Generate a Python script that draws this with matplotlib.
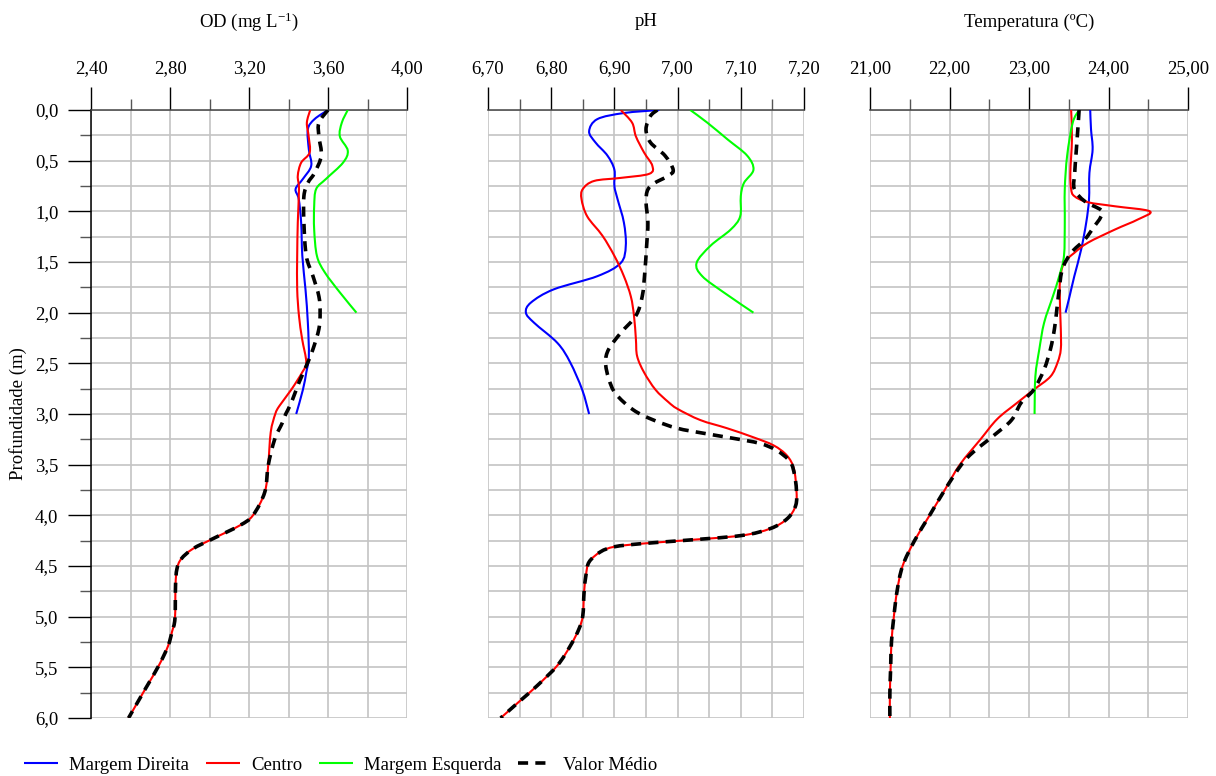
import numpy as np
import matplotlib
matplotlib.use("Agg")
import matplotlib.pyplot as plt
from matplotlib.path import Path
from matplotlib.patches import PathPatch
from matplotlib.lines import Line2D
from matplotlib.ticker import MultipleLocator, FuncFormatter

plt.rcParams['font.family'] = ['Liberation Serif', 'DejaVu Serif']
plt.rcParams['mathtext.fontset'] = 'custom'
plt.rcParams['mathtext.rm'] = 'Liberation Serif'
plt.rcParams['mathtext.it'] = 'Liberation Serif:italic'

# ---------------- data (depth in m, value) ----------------
series_names = ["Margem Direita", "Centro", "Margem Esquerda", "Valor Médio"]
panel_titles = [r"OD (mg L$^{\mathregular{-1}}$)", "pH", "Temperatura (ºC)"]
depth_label = "Profundidade (m)"

# OD
od_dir_d = [0.0, 0.09, 0.19, 0.39, 0.55, 0.68, 0.78, 0.88, 1.11, 1.44, 1.77, 2.10, 2.43, 2.59, 2.76, 3.0]
od_dir_v = [3.60, 3.532, 3.498, 3.503, 3.515, 3.473, 3.436, 3.452, 3.464, 3.470, 3.486, 3.498, 3.503, 3.49, 3.473, 3.439]
od_cen_d = [0.0, 0.125, 0.26, 0.42, 0.52, 0.65, 0.78, 1.11, 1.44, 1.77, 2.03, 2.26, 2.49, 2.59, 2.76, 2.92,
            3.0, 3.18, 3.51, 3.77, 4.0, 4.1, 4.23, 4.33, 4.43, 4.53, 4.69, 5.02, 5.15, 5.29, 5.48, 5.71, 6.0]
od_cen_v = [3.51, 3.493, 3.502, 3.507, 3.464, 3.447, 3.453, 3.447, 3.444, 3.444, 3.453, 3.469, 3.49, 3.469, 3.414, 3.354,
            3.333, 3.31, 3.297, 3.28, 3.22, 3.153, 3.018, 2.916, 2.857, 2.835, 2.828, 2.825, 2.81, 2.79, 2.744, 2.676, 2.59]
od_esq_d = [0.0, 0.125, 0.26, 0.40, 0.52, 0.68, 0.78, 0.95, 1.18, 1.44, 1.60, 1.80, 2.0]
od_esq_v = [3.70, 3.67, 3.66, 3.70, 3.676, 3.59, 3.54, 3.53, 3.53, 3.544, 3.583, 3.66, 3.744]
od_med_d = [0.0, 0.125, 0.26, 0.45, 0.62, 0.72, 0.85, 1.11, 1.44, 1.64, 1.84, 2.0, 2.16, 2.36, 2.49, 2.69, 2.89,
            3.0, 3.09, 3.25, 3.51, 3.77, 4.0, 4.1, 4.23, 4.33, 4.43, 4.53, 4.69, 5.02, 5.15, 5.29, 5.48, 5.71, 6.0]
od_med_v = [3.60, 3.554, 3.554, 3.566, 3.532, 3.498, 3.478, 3.478, 3.49, 3.524, 3.554, 3.56, 3.554, 3.524, 3.498, 3.453, 3.414,
            3.386, 3.368, 3.33, 3.297, 3.28, 3.22, 3.153, 3.018, 2.916, 2.857, 2.835, 2.828, 2.825, 2.81, 2.79, 2.744, 2.676, 2.59]

# pH
ph_dir_d = [0.0, 0.03, 0.09, 0.21, 0.32, 0.45, 0.59, 0.75, 0.88, 1.11, 1.34, 1.51, 1.64, 1.77, 1.90, 2.0, 2.1, 2.3, 2.49, 2.76, 3.0]
ph_dir_v = [6.971, 6.915, 6.873, 6.86, 6.87, 6.889, 6.90, 6.90, 6.905, 6.915, 6.918, 6.91, 6.873, 6.804, 6.768, 6.76, 6.773, 6.81, 6.83, 6.849, 6.86]
ph_cen_d = [0.0, 0.125, 0.26, 0.42, 0.55, 0.63, 0.67, 0.70, 0.78, 0.88, 1.05, 1.24, 1.44, 1.64, 1.84, 2.03, 2.26, 2.43,
            2.59, 2.76, 2.88, 2.95, 3.06, 3.14, 3.23, 3.31, 3.41, 3.54, 3.75, 3.90, 4.03, 4.13, 4.20, 4.25, 4.28, 4.31,
            4.36, 4.46, 4.59, 4.76, 4.99, 5.12, 5.28, 5.48, 5.68, 5.84, 6.0]
ph_cen_v = [6.91, 6.928, 6.934, 6.947, 6.96, 6.955, 6.91, 6.868, 6.85, 6.848, 6.857, 6.881, 6.90, 6.915, 6.926, 6.931, 6.934, 6.936,
            6.947, 6.965, 6.985, 7.0, 7.036, 7.078, 7.12, 7.152, 7.173, 7.184, 7.188, 7.187, 7.174, 7.147, 7.10, 7.005, 6.942, 6.90,
            6.878, 6.86, 6.855, 6.852, 6.85, 6.844, 6.831, 6.81, 6.778, 6.749, 6.72]
ph_esq_d = [0.0, 0.125, 0.29, 0.45, 0.59, 0.72, 0.85, 1.05, 1.18, 1.34, 1.51, 1.64, 1.80, 2.0]
ph_esq_v = [7.02, 7.047, 7.079, 7.11, 7.12, 7.105, 7.10, 7.099, 7.084, 7.052, 7.03, 7.039, 7.073, 7.12]
ph_med_d = [0.0, 0.06, 0.19, 0.32, 0.45, 0.59, 0.65, 0.75, 0.88, 1.11, 1.34, 1.61, 1.84, 2.03, 2.2, 2.36, 2.49, 2.65,
            2.80, 2.96, 3.06, 3.14, 3.19, 3.24, 3.29, 3.36, 3.47, 3.6, 3.75, 3.90, 4.03, 4.13, 4.20, 4.25, 4.28, 4.31,
            4.36, 4.46, 4.59, 4.76, 4.99, 5.12, 5.28, 5.48, 5.68, 5.84, 6.0]
ph_med_v = [6.968, 6.957, 6.95, 6.957, 6.98, 6.993, 6.985, 6.957, 6.95, 6.953, 6.951, 6.948, 6.944, 6.934, 6.91, 6.891, 6.886, 6.891,
            6.902, 6.93, 6.962, 6.999, 7.041, 7.088, 7.13, 7.157, 7.178, 7.185, 7.188, 7.187, 7.174, 7.147, 7.10, 7.005, 6.942, 6.90,
            6.878, 6.86, 6.855, 6.852, 6.85, 6.844, 6.831, 6.81, 6.778, 6.749, 6.72]

# Temperature
t_dir_d = [0.0, 0.19, 0.39, 0.62, 0.88, 1.11, 1.38, 1.64, 1.84, 2.0]
t_dir_v = [23.77, 23.78, 23.80, 23.76, 23.755, 23.72, 23.655, 23.57, 23.51, 23.46]
t_cen_d = [0.0, 0.29, 0.62, 0.78, 0.85, 0.91, 0.95, 1.0, 1.08, 1.18, 1.31, 1.41, 1.51, 1.68, 1.93, 2.16, 2.36, 2.49, 2.63,
           2.76, 2.89, 3.05, 3.25, 3.5, 3.75, 4.0, 4.25, 4.5, 4.75, 5.0, 5.25, 5.5, 5.75, 6.0]
t_cen_v = [23.53, 23.54, 23.52, 23.53, 23.57, 23.74, 24.08, 24.52, 24.37, 24.08, 23.74, 23.57, 23.44, 23.39, 23.39, 23.40, 23.40, 23.36, 23.27,
           23.06, 22.85, 22.60, 22.39, 22.13, 21.94, 21.75, 21.56, 21.41, 21.34, 21.30, 21.27, 21.26, 21.25, 21.25]
t_esq_d = [0.0, 0.125, 0.45, 0.78, 1.11, 1.44, 1.64, 1.84, 2.1, 2.36, 2.63, 3.0]
t_esq_v = [23.63, 23.55, 23.48, 23.45, 23.45, 23.44, 23.38, 23.30, 23.19, 23.13, 23.08, 23.07]
t_med_d = [0.0, 0.125, 0.29, 0.45, 0.62, 0.78, 0.90, 0.99, 1.06, 1.15, 1.28, 1.41, 1.57, 1.77, 1.97, 2.16, 2.36, 2.56,
           2.76, 2.89, 3.06, 3.21, 3.375, 3.5, 3.75, 4.0, 4.25, 4.5, 4.75, 5.0, 5.25, 5.5, 5.75, 6.0]
t_med_v = [23.63, 23.62, 23.605, 23.59, 23.575, 23.57, 23.70, 23.91, 23.90, 23.82, 23.70, 23.53, 23.42, 23.38, 23.35, 23.32, 23.27, 23.19,
           23.06, 22.90, 22.78, 22.56, 22.30, 22.15, 21.94, 21.75, 21.56, 21.41, 21.34, 21.30, 21.27, 21.26, 21.25, 21.25]

panels = [
    dict(data=[(od_dir_d, od_dir_v), (od_cen_d, od_cen_v), (od_esq_d, od_esq_v), (od_med_d, od_med_v)],
         xlim=(2.40, 4.00), major=0.4, minor=0.2),
    dict(data=[(ph_dir_d, ph_dir_v), (ph_cen_d, ph_cen_v), (ph_esq_d, ph_esq_v), (ph_med_d, ph_med_v)],
         xlim=(6.70, 7.20), major=0.1, minor=0.05),
    dict(data=[(t_dir_d, t_dir_v), (t_cen_d, t_cen_v), (t_esq_d, t_esq_v), (t_med_d, t_med_v)],
         xlim=(21.0, 25.0), major=1.0, minor=0.5),
]

colors = ["#0000FF", "#FF0000", "#00FF00", "#000000"]
widths = [1.5, 1.5, 1.5, 2.6]
styles = ["solid", "solid", "solid", (0, (2.8, 2.0))]


def smooth_path(xs, ys):
    pts = np.column_stack([xs, ys]).astype(float)
    n = len(pts)
    verts = [pts[0]]
    codes = [Path.MOVETO]
    for i in range(n - 1):
        p0 = pts[i - 1] if i > 0 else pts[i]
        p1 = pts[i]
        p2 = pts[i + 1]
        p3 = pts[i + 2] if i + 2 < n else pts[i + 1]
        verts += [p1 + (p2 - p0) / 6.0, p2 - (p3 - p1) / 6.0, p2]
        codes += [Path.CURVE4] * 3
    return Path(verts, codes)


W, H = 1216, 776
fig = plt.figure(figsize=(W / 100, H / 100), dpi=100)
lefts = [91, 488, 870]
wids = [316, 316, 318]
top_px, bot_px = 110, 718
grid_col = "#c4c4c4"

for k, (p, lpx, wpx) in enumerate(zip(panels, lefts, wids)):
    ax = fig.add_axes([lpx / W, 1 - bot_px / H, wpx / W, (bot_px - top_px) / H])
    ax.set_xlim(*p["xlim"])
    ax.set_ylim(6.0, 0.0)
    ax.xaxis.set_major_locator(MultipleLocator(p["major"]))
    ax.xaxis.set_minor_locator(MultipleLocator(p["minor"]))
    ax.yaxis.set_major_locator(MultipleLocator(0.5))
    ax.yaxis.set_minor_locator(MultipleLocator(0.25))
    ax.xaxis.set_major_formatter(FuncFormatter(lambda v, pos: f"{v:.2f}".replace(".", ",")))
    ax.yaxis.set_major_formatter(FuncFormatter(lambda v, pos: f"{v:.1f}".replace(".", ",")))
    ax.xaxis.tick_top()
    ax.grid(True, which="both", color=grid_col, lw=1.2)
    ax.set_axisbelow(True)
    for s in ["bottom", "right"]:
        ax.spines[s].set_visible(False)
    ax.spines["top"].set_color("#444444")
    ax.spines["top"].set_linewidth(1.1)
    ax.tick_params(axis="x", which="major", direction="out", length=16.5, width=1.0, color="black",
                   labelsize=13.5, pad=7)
    ax.tick_params(axis="x", which="minor", direction="out", length=8, width=1.0, color="#555555")
    if k == 0:
        ax.spines["left"].set_color("black")
        ax.spines["left"].set_linewidth(1.1)
        ax.tick_params(axis="y", which="major", direction="out", length=16.5, width=1.0, color="black",
                       labelsize=13.5, pad=7)
        ax.tick_params(axis="y", which="minor", direction="out", length=8, width=1.0, color="#555555")
        ax.set_ylabel(depth_label, fontsize=13.5, labelpad=6)
    else:
        ax.spines["left"].set_visible(False)
        ax.tick_params(axis="y", which="both", left=False, labelleft=False)
    for (dd, vv), c, lw, ls in zip(p["data"], colors, widths, styles):
        patch = PathPatch(smooth_path(vv, dd), fill=False, edgecolor=c, lw=lw, linestyle=ls,
                          capstyle="butt", joinstyle="round", zorder=3)
        ax.add_patch(patch)
    fig.text((lpx + wpx / 2) / W, 1 - 22 / H, panel_titles[k], ha="center", va="center", fontsize=13.5)

handles = [Line2D([0], [0], color=c, lw=lw, linestyle=ls, solid_capstyle="butt", dash_capstyle="butt")
           for c, lw, ls in zip(colors, widths, styles)]
fig.legend(handles, series_names, loc="center left", bbox_to_anchor=(24 / W, 1 - 765 / H), ncol=4,
           frameon=False, fontsize=13.5, handlelength=1.8, handletextpad=0.6, columnspacing=0.9,
           borderpad=0, borderaxespad=0)

fig.savefig("out.png", dpi=100)
